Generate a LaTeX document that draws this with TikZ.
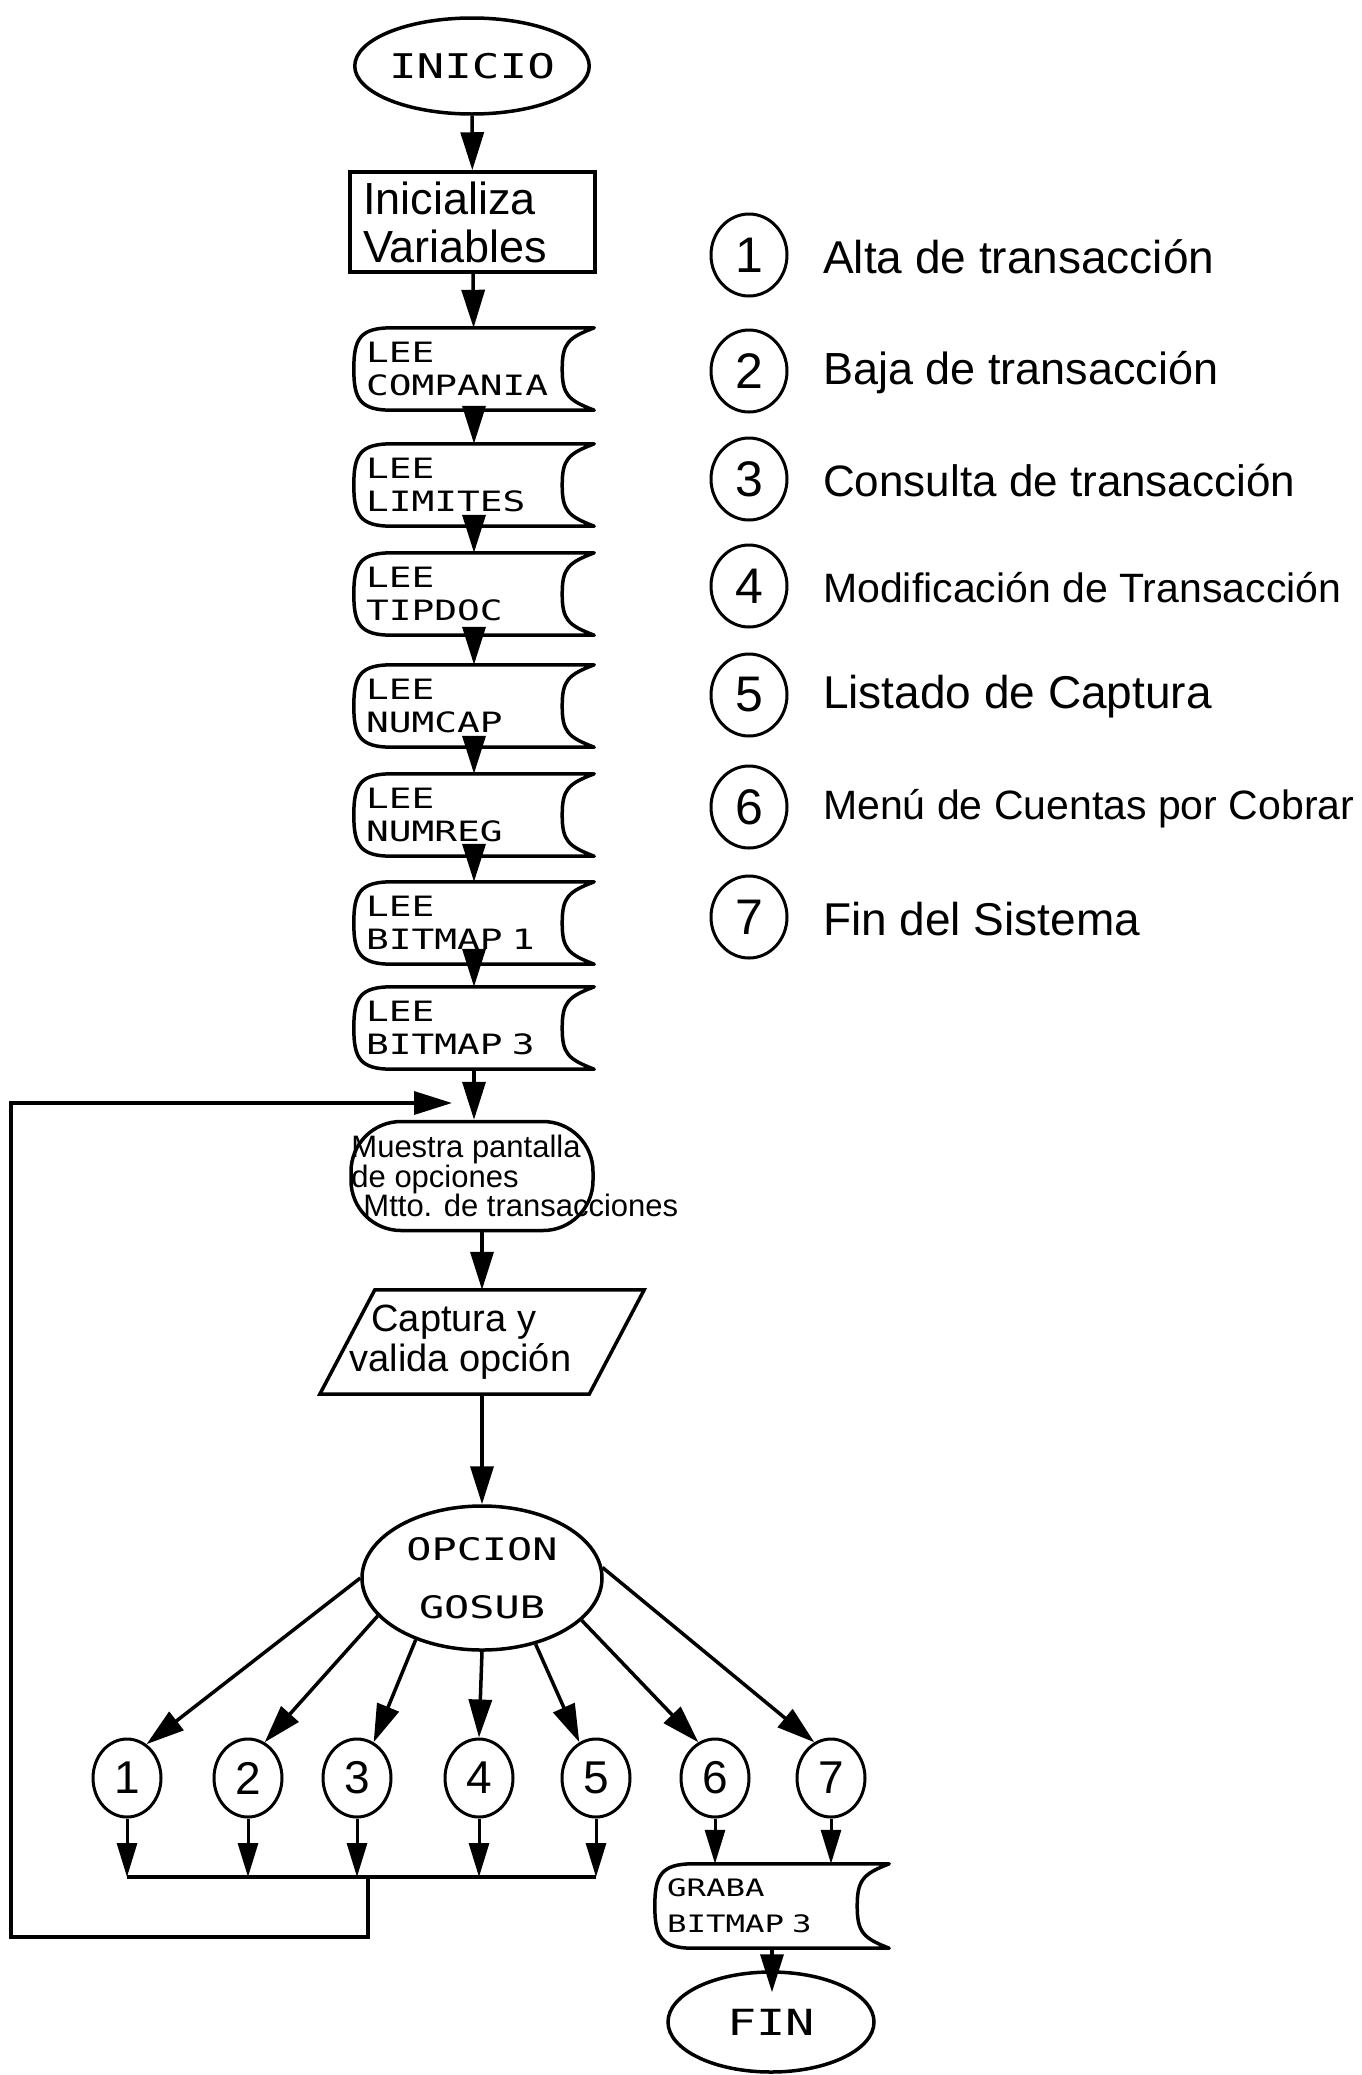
\documentclass[tikz,border=0pt]{standalone}
\usepackage{fontspec}
\setmainfont{Liberation Sans}
\newfontfamily\capsfont[FakeStretch=1.35]{DejaVu Sans Mono}
\usetikzlibrary{shapes.geometric,arrows.meta,calc}

\tikzset{
  ln/.style={line width=3.5pt},
  arr/.style={line width=3.5pt, -{Triangle[length=38pt,width=23pt]}},
  sarr/.style={line width=3pt, -{Triangle[length=34pt,width=20pt]}},
  term/.style={ellipse, draw, line width=3.5pt, inner sep=0pt},
  procbox/.style={rectangle, draw, line width=3.5pt, inner xsep=13pt, inner ysep=0pt, align=left},
  tapebox/.style={rectangle, inner xsep=12pt, inner ysep=0pt, align=left, text width=216pt,
    minimum height=82pt, font=\capsfont\fontsize{28}{33}\selectfont},
  num/.style={ellipse, draw, line width=3pt, minimum width=68pt, minimum height=78pt,
    inner sep=0pt, font=\fontsize{46}{46}\selectfont},
  lnum/.style={ellipse, draw, line width=3pt, minimum width=76pt, minimum height=82pt,
    inner sep=0pt, font=\fontsize{50}{50}\selectfont},
  ltext/.style={anchor=west, inner sep=0pt},
}

\newcommand\tapeoutline[1]{%
  \draw[ln, line join=round] (#1.north east) -- ($(#1.north west)+(38pt,0)$)
    .. controls ($(#1.north west)+(6pt,0)$) and ($(#1.west)+(0,30pt)$) .. (#1.west)
    .. controls ($(#1.west)+(0,-30pt)$) and ($(#1.south west)+(6pt,0)$) .. ($(#1.south west)+(38pt,0)$)
    -- (#1.south east)
    .. controls ($(#1.south east)+(-26pt,10pt)$) and ($(#1.east)+(-32pt,-26pt)$) .. ($(#1.east)+(-32pt,0)$)
    .. controls ($(#1.east)+(-32pt,26pt)$) and ($(#1.north east)+(-26pt,-10pt)$) .. cycle;}

\begin{document}
\begin{tikzpicture}[x=1pt,y=1pt]
\fill[white] (0,0) rectangle (1362,-2075);
\useasboundingbox (0,0) rectangle (1362,-2075);

% main column
\node[term, minimum width=212pt, minimum height=96pt, font=\capsfont\fontsize{34}{34}\selectfont] (ini) at (472,-66) {INICIO};
\node[procbox, text width=219pt, minimum height=100pt, font=\fontsize{45}{48}\selectfont] (var) at (472.5,-222) {Inicializa\\Variables};

\node[tapebox] (t1) at (474,-369) {LEE\\COMPANIA};
\node[tapebox] (t2) at (474,-485) {LEE\\LIMITES};
\node[tapebox] (t3) at (474,-594) {LEE\\TIPDOC};
\node[tapebox] (t4) at (474,-706) {LEE\\NUMCAP};
\node[tapebox] (t5) at (474,-815) {LEE\\NUMREG};
\node[tapebox] (t6) at (474,-923) {LEE\\BITMAP 1};
\node[tapebox] (t7) at (474,-1028) {LEE\\BITMAP 3};
\foreach \n in {t1,t2,t3,t4,t5,t6,t7} {\tapeoutline{\n}}

\node[rectangle, draw, ln, rounded corners=50pt, minimum width=242pt, minimum height=109pt] (mu) at (472,-1176) {};
\node[anchor=west, align=left, inner sep=0pt, font=\fontsize{31}{28}\selectfont] (mut) at ([xshift=2pt]mu.west)
  {Muestra pantalla\\de opciones\\\hspace*{12pt}Mtto. de transacciones};

\node[rectangle, minimum width=269pt, minimum height=104pt, inner sep=0pt] (cap) at (482,-1342) {};
\draw[ln, line join=miter] ($(cap.north west)+(27.5pt,0)$) -- ($(cap.north east)+(27.5pt,0)$)
  -- ($(cap.south east)+(-27.5pt,0)$) -- ($(cap.south west)+(-27.5pt,0)$) -- cycle;
\node[anchor=west, align=left, inner sep=0pt, font=\fontsize{38}{40}\selectfont] (capt) at ([xshift=2pt]cap.west)
  {\hspace*{22pt}Captura y\\valida opción};

\node[term, minimum width=240pt, minimum height=144pt, align=center,
  font=\capsfont\fontsize{31}{58}\selectfont] (opc) at (482,-1578) {OPCION\\GOSUB};

% numbered circles
\node[num] (c1) at (127,-1778) {1};
\node[num] (c2) at (248,-1778) {2};
\node[num] (c3) at (357,-1778) {3};
\node[num] (c4) at (479,-1778) {4};
\node[num] (c5) at (596,-1778) {5};
\node[num] (c6) at (715,-1778) {6};
\node[num] (c7) at (831,-1778) {7};

\node[tapebox, text width=210pt, minimum height=84pt, inner xsep=12pt,
  font=\capsfont\fontsize{24}{36}\selectfont] (grb) at (772,-1906) {GRABA\\BITMAP 3};
\tapeoutline{grb}

\node[term, minimum width=206pt, minimum height=100pt, font=\capsfont\fontsize{36}{36}\selectfont] (fin) at (771,-2022) {FIN};

% junction coordinates
\coordinate (j1) at (127,-1877);
\coordinate (j2) at (248,-1877);
\coordinate (j3) at (357,-1877);
\coordinate (j4) at (479,-1877);
\coordinate (j5) at (596,-1877);
\coordinate (jl) at (368,-1877);
\coordinate (lb) at (368,-1937);
\coordinate (lc) at (11,-1937);
\coordinate (ld) at (11,-1103);
\coordinate (le) at (452,-1103);

% connectors main column
\draw[arr] (ini) -- (var);
\draw[arr] (var) -- (t1);
\draw[arr] (t1) -- (t2);
\draw[arr] (t2) -- (t3);
\draw[arr] (t3) -- (t4);
\draw[arr] (t4) -- (t5);
\draw[arr] (t5) -- (t6);
\draw[arr] (t6) -- (t7);
\draw[arr] (t7.south) -- (t7.south |- mu.north);
\draw[arr] (mu.south -| cap.north) -- (cap.north);
\draw[arr] (cap.south) -- (opc.north);

% branches
\draw[arr] (opc.180) -- (c1.60);
\draw[arr] (opc.200) -- (c2.65);
\draw[arr] (opc.223) -- (c3.65);
\draw[arr] (opc.270) -- (c4.north);
\draw[arr] (opc.309) -- (c5.115);
\draw[arr] (opc.337) -- (c6.115);
\draw[arr] (opc.5) -- (c7.115);

\draw[sarr] (c1.south) -- (j1);
\draw[sarr] (c2.south) -- (j2);
\draw[sarr] (c3.south) -- (j3);
\draw[sarr] (c4.south) -- (j4);
\draw[sarr] (c5.south) -- (j5);
\draw[ln] (j1) -- (j5);
\draw[arr, line join=miter] (jl) -- (lb) -- (lc) -- (ld) -- (le);

\draw[sarr] (c6.south) -- (c6.south |- grb.north);
\draw[sarr] (c7.south) -- (c7.south |- grb.north);
\draw[arr] (grb.south) -- ($(grb.south |- fin.north)+(0,-22pt)$);

% legend
\node[lnum] (l1) at (749,-255) {1};
\node[lnum] (l2) at (749,-371) {2};
\node[lnum] (l3) at (749,-479) {3};
\node[lnum] (l4) at (749,-586) {4};
\node[lnum] (l5) at (749,-695) {5};
\node[lnum] (l6) at (749,-807) {6};
\node[lnum] (l7) at (749,-917) {7};
\node[ltext, font=\fontsize{46}{46}\selectfont] (lt1) at (823,-257) {Alta de transacción};
\node[ltext, font=\fontsize{45}{45}\selectfont] (lt2) at (823,-373) {Baja de transacción};
\node[ltext, font=\fontsize{44}{44}\selectfont] (lt3) at (823,-481) {Consulta de transacción};
\node[ltext, font=\fontsize{41}{41}\selectfont] (lt4) at (823,-588) {Modificación de Transacción};
\node[ltext, font=\fontsize{46}{46}\selectfont] (lt5) at (823,-697) {Listado de Captura};
\node[ltext, font=\fontsize{41}{41}\selectfont] (lt6) at (823,-809) {Menú de Cuentas por Cobrar};
\node[ltext, font=\fontsize{46}{46}\selectfont] (lt7) at (823,-919) {Fin del Sistema};
\end{tikzpicture}
\end{document}
